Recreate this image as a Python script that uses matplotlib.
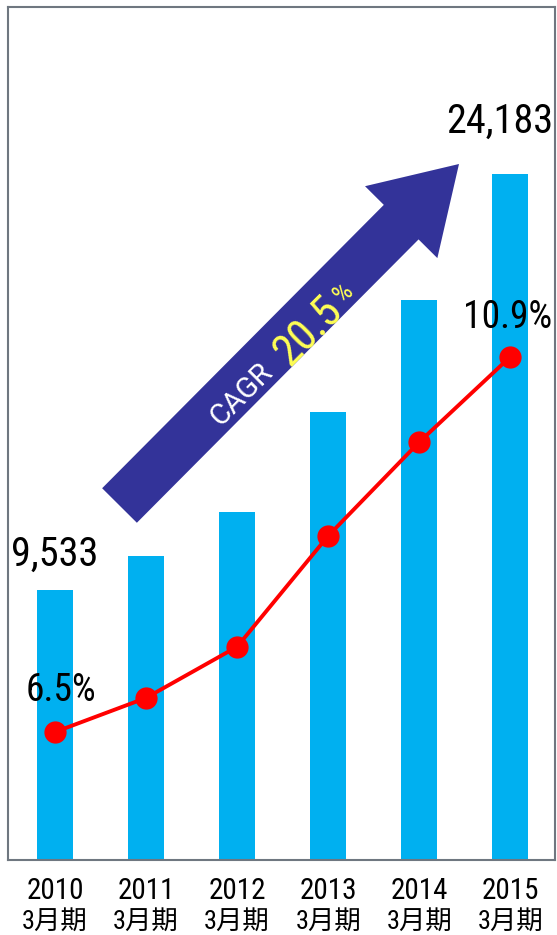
import matplotlib
matplotlib.use("Agg")
import matplotlib.pyplot as plt
from matplotlib.patches import FancyArrow
from matplotlib import transforms
import numpy as np

# Fiscal years (ending March) and figures
years = ["2010", "2011", "2012", "2013", "2014", "2015"]
period_label = "3月期"
sales = [9533, 10720, 12270, 15800, 19750, 24183]
margin_pct = [6.5, 6.9, 7.5, 8.8, 9.9, 10.9]
cagr_label = "20.5"

NUM_FONT = ["Roboto Condensed", "Noto Sans CJK JP", "DejaVu Sans"]
BAR_COLOR = "#00B0F0"
LINE_COLOR = "#FF0000"
ARROW_COLOR = "#333399"

W, H = 557, 935
fig = plt.figure(figsize=(W / 100, H / 100), dpi=100)
fig.patch.set_facecolor("white")

ax = fig.add_axes([8 / W, (H - 860) / H, (555 - 8) / W, (860 - 7) / H])
x = np.arange(len(years))
ax.bar(x, sales, width=0.395, color=BAR_COLOR, zorder=2)
ax.set_xlim(-0.515, 5.49)
ax.set_ylim(0, 30085)
ax.set_xticks([])
ax.set_yticks([])
for s in ax.spines.values():
    s.set_color("#6F7780")
    s.set_linewidth(1.5)

ax2 = ax.twinx()
ax2.plot(x, margin_pct, color=LINE_COLOR, lw=2.8, marker="o", ms=15,
         markerfacecolor=LINE_COLOR, markeredgecolor=LINE_COLOR, zorder=3)
ax2.set_ylim(5, 15)
ax2.set_yticks([])
for s in ax2.spines.values():
    s.set_visible(False)

# Value labels on the first and last bars
ax.annotate(f"{sales[0]:,}", (x[0], sales[0]), xytext=(0, 35), textcoords="offset pixels",
            ha="center", va="center", fontsize=29, family=NUM_FONT, color="black")
ax.annotate(f"{sales[-1]:,}", (x[-1], sales[-1]), xytext=(-11, 53), textcoords="offset pixels",
            ha="center", va="center", fontsize=29, family=NUM_FONT, color="black")

# Percentage labels on the first and last points
ax2.annotate(f"{margin_pct[0]}%", (x[0], margin_pct[0]), xytext=(6, 42), textcoords="offset pixels",
             ha="center", va="center", fontsize=27, family=NUM_FONT, color="black")
ax2.annotate(f"{margin_pct[-1]}%", (x[-1], margin_pct[-1]), xytext=(-3, 39), textcoords="offset pixels",
             ha="center", va="center", fontsize=27, family=NUM_FONT, color="black")

# Category labels under the axis
tb = transforms.blended_transform_factory(ax.transData, fig.transFigure)
for xi, yr in zip(x, years):
    ax.text(xi, 1 - 891 / H, yr, transform=tb, ha="center", va="center",
            fontsize=21, family=NUM_FONT, color="black")
    ax.text(xi, 1 - 922 / H, period_label, transform=tb, ha="center", va="center",
            fontsize=19, family=NUM_FONT, color="black")

# Overlay in pixel units for the growth arrow
ov = fig.add_axes([0, 0, 1, 1], facecolor="none")
ov.set_xlim(0, W)
ov.set_ylim(H, 0)
ov.axis("off")
tail = np.array([119.5, 505.5])
tip = np.array([459.0, 164.0])
d = tip - tail
ov.add_patch(FancyArrow(tail[0], tail[1], d[0], d[1], width=49, head_width=102,
                        head_length=82, length_includes_head=True,
                        color=ARROW_COLOR, lw=0, zorder=5))
ov.text(241, 395, "CAGR", rotation=45, rotation_mode="anchor", ha="center", va="center",
        fontsize=21, family=["Roboto", "DejaVu Sans"], color="white", zorder=6)
ov.text(309, 331, cagr_label, rotation=45, rotation_mode="anchor", ha="center", va="center",
        fontsize=32, family=NUM_FONT, color="#FFFF55", zorder=6)
ov.text(344, 293, "%", rotation=45, rotation_mode="anchor", ha="center", va="center",
        fontsize=19, family=NUM_FONT, color="#FFFF55", zorder=6)

fig.savefig("out.png", dpi=100)
